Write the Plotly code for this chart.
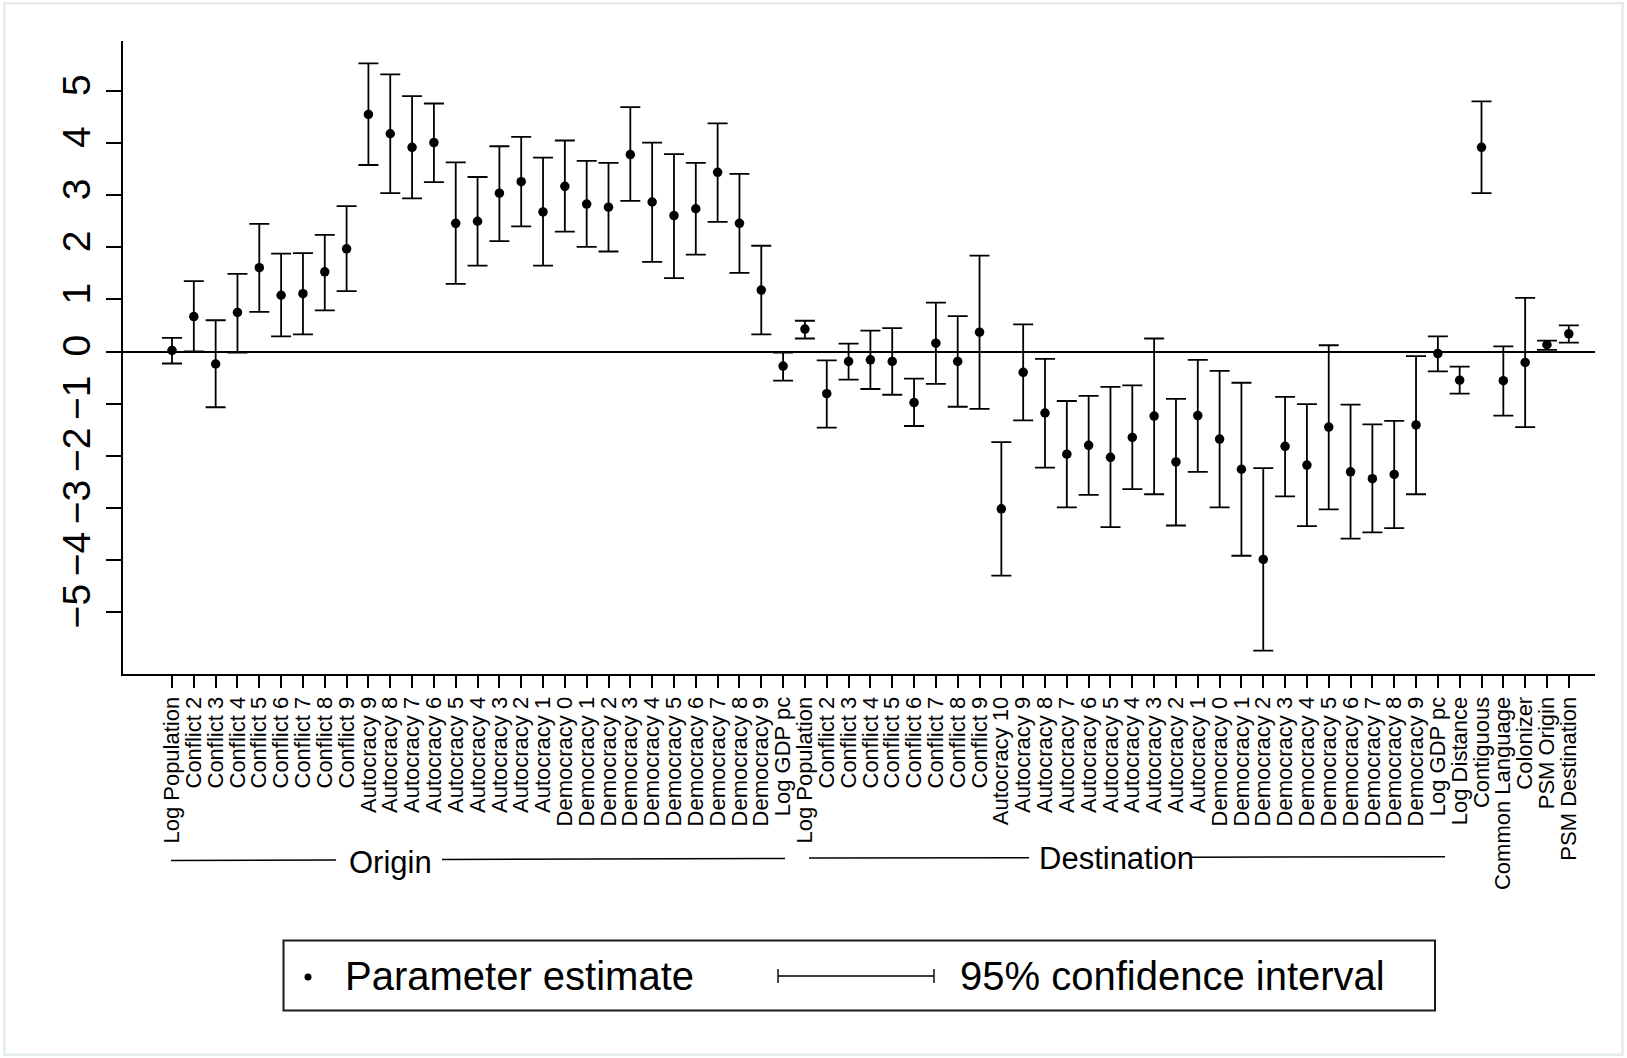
import plotly.graph_objects as go

labels = [
    "Log Population", "Conflict 2", "Conflict 3", "Conflict 4", "Conflict 5",
    "Conflict 6", "Conflict 7", "Conflict 8", "Conflict 9",
    "Autocracy 9", "Autocracy 8", "Autocracy 7", "Autocracy 6", "Autocracy 5",
    "Autocracy 4", "Autocracy 3", "Autocracy 2", "Autocracy 1",
    "Democracy 0", "Democracy 1", "Democracy 2", "Democracy 3", "Democracy 4",
    "Democracy 5", "Democracy 6", "Democracy 7", "Democracy 8", "Democracy 9",
    "Log GDP pc",
    "Log Population", "Conflict 2", "Conflict 3", "Conflict 4", "Conflict 5",
    "Conflict 6", "Conflict 7", "Conflict 8", "Conflict 9",
    "Autocracy 10", "Autocracy 9", "Autocracy 8", "Autocracy 7", "Autocracy 6",
    "Autocracy 5", "Autocracy 4", "Autocracy 3", "Autocracy 2", "Autocracy 1",
    "Democracy 0", "Democracy 1", "Democracy 2", "Democracy 3", "Democracy 4",
    "Democracy 5", "Democracy 6", "Democracy 7", "Democracy 8", "Democracy 9",
    "Log GDP pc", "Log Distance", "Contiguous", "Common Language", "Colonizer",
    "PSM Origin", "PSM Destination",
]

estimate = [
    0.02, 0.67, -0.24, 0.75, 1.61, 1.08, 1.11, 1.53, 1.97,
    4.55, 4.18, 3.92, 4.01, 2.46, 2.50, 3.04, 3.26, 2.68,
    3.17, 2.83, 2.77, 3.78, 2.87, 2.61, 2.74, 3.44, 2.46, 1.18,
    -0.28,
    0.43, -0.81, -0.19, -0.16, -0.19, -0.98, 0.16, -0.19, 0.37,
    -3.02, -0.40, -1.18, -1.97, -1.80, -2.03, -1.65, -1.24, -2.12, -1.23,
    -1.68, -2.26, -3.99, -1.82, -2.18, -1.45, -2.31, -2.44, -2.36, -1.41,
    -0.04, -0.55, 3.92, -0.56, -0.21, 0.13, 0.34,
]

ci_low = [
    -0.23, 0.00, -1.07, -0.02, 0.76, 0.29, 0.33, 0.79, 1.16,
    3.58, 3.04, 2.94, 3.25, 1.30, 1.65, 2.12, 2.40, 1.65,
    2.30, 2.01, 1.92, 2.89, 1.72, 1.41, 1.86, 2.49, 1.51, 0.33,
    -0.56,
    0.25, -1.46, -0.54, -0.72, -0.83, -1.43, -0.62, -1.06, -1.10,
    -4.30, -1.32, -2.23, -2.99, -2.75, -3.37, -2.64, -2.74, -3.34, -2.31,
    -2.99, -3.92, -5.74, -2.78, -3.35, -3.03, -3.59, -3.47, -3.39, -2.74,
    -0.38, -0.81, 3.04, -1.23, -1.45, 0.03, 0.17,
]

ci_high = [
    0.26, 1.35, 0.60, 1.49, 2.45, 1.88, 1.89, 2.24, 2.79,
    5.53, 5.32, 4.90, 4.76, 3.63, 3.35, 3.94, 4.12, 3.72,
    4.05, 3.66, 3.62, 4.69, 4.01, 3.79, 3.62, 4.38, 3.41, 2.03,
    -0.02,
    0.59, -0.17, 0.15, 0.40, 0.45, -0.52, 0.94, 0.68, 1.84,
    -1.74, 0.52, -0.14, -0.95, -0.85, -0.68, -0.65, 0.25, -0.91, -0.16,
    -0.37, -0.60, -2.24, -0.87, -1.01, 0.12, -1.02, -1.40, -1.33, -0.09,
    0.29, -0.29, 4.80, 0.10, 1.03, 0.21, 0.50,
]

y_tick_vals = [-5, -4, -3, -2, -1, 0, 1, 2, 3, 4, 5]
y_tick_text = ["\u22125", "\u22124", "\u22123", "\u22122", "\u22121", "0", "1", "2", "3", "4", "5"]

group_names = ["Origin", "Destination"]
legend_texts = ["Parameter estimate", "95% confidence interval"]

FONT = "Liberation Sans, Arial, Helvetica, sans-serif"
W, H = 1627, 1058
ML, MR, MT, MB = 123, 32, 41, 384
PW = W - ML - MR
PH = H - MT - MB


def px(x):
    return (x - ML) / PW


def py(y):
    return (H - MB - y) / PH


x_pos = list(range(len(labels)))
err_plus = [h - e for h, e in zip(ci_high, estimate)]
err_minus = [e - l for e, l in zip(estimate, ci_low)]

fig = go.Figure()
fig.add_trace(go.Scatter(
    x=x_pos, y=estimate, mode="markers",
    marker=dict(color="black", size=9.5),
    error_y=dict(type="data", symmetric=False, array=err_plus,
                 arrayminus=err_minus, color="black", thickness=1.8, width=10),
    showlegend=False, hoverinfo="skip",
))

shapes = []
annotations = []

# outer light frame
shapes.append(dict(type="rect", xref="paper", yref="paper",
                   x0=px(4.5), x1=px(1622.5), y0=py(3.3), y1=py(1054.7),
                   line=dict(color="#e3ebed", width=2.5), layer="below"))

# group labels with lines
seg_style = dict(color="black", width=1.6)
shapes += [
    dict(type="line", xref="paper", yref="paper", x0=px(171), x1=px(336), y0=py(860.5), y1=py(860), line=seg_style),
    dict(type="line", xref="paper", yref="paper", x0=px(442), x1=px(785), y0=py(859.5), y1=py(858.5), line=seg_style),
    dict(type="line", xref="paper", yref="paper", x0=px(809), x1=px(1029), y0=py(858), y1=py(857.7), line=seg_style),
    dict(type="line", xref="paper", yref="paper", x0=px(1192), x1=px(1445), y0=py(857.2), y1=py(856.7), line=seg_style),
]
annotations += [
    dict(text=group_names[0], xref="paper", yref="paper", x=px(390), y=py(863),
         xanchor="center", yanchor="middle", showarrow=False,
         font=dict(family=FONT, size=31, color="black")),
    dict(text=group_names[1], xref="paper", yref="paper", x=px(1116), y=py(858),
         xanchor="center", yanchor="middle", showarrow=False,
         font=dict(family=FONT, size=31, color="black")),
]

# manual legend box
shapes.append(dict(type="rect", xref="paper", yref="paper",
                   x0=px(283.5), x1=px(1435), y0=py(940.5), y1=py(1010.5),
                   line=dict(color="#1a1a1a", width=2)))
shapes.append(dict(type="circle", xref="paper", yref="paper",
                   xsizemode="pixel", ysizemode="pixel",
                   xanchor=px(308), yanchor=py(977),
                   x0=-3.5, x1=3.5, y0=-3.5, y1=3.5,
                   fillcolor="black", line=dict(color="black", width=0)))
leg_line = dict(color="black", width=1.4)
shapes += [
    dict(type="line", xref="paper", yref="paper", x0=px(778), x1=px(934), y0=py(976), y1=py(976), line=leg_line),
    dict(type="line", xref="paper", yref="paper", x0=px(778), x1=px(778), y0=py(969), y1=py(983), line=leg_line),
    dict(type="line", xref="paper", yref="paper", x0=px(934), x1=px(934), y0=py(969), y1=py(983), line=leg_line),
]
annotations += [
    dict(text=legend_texts[0], xref="paper", yref="paper", x=px(343), y=py(976),
         xanchor="left", yanchor="middle", showarrow=False,
         font=dict(family=FONT, size=40, color="black")),
    dict(text=legend_texts[1], xref="paper", yref="paper", x=px(958), y=py(976),
         xanchor="left", yanchor="middle", showarrow=False,
         font=dict(family=FONT, size=40, color="black")),
]

fig.update_layout(
    width=W, height=H,
    margin=dict(l=ML, r=MR, t=MT, b=MB, autoexpand=False),
    paper_bgcolor="white", plot_bgcolor="white",
    font=dict(family=FONT, color="black"),
    shapes=shapes, annotations=annotations,
    showlegend=False,
    xaxis=dict(
        range=[-2.245, 65.2], tickmode="array", tickvals=x_pos, ticktext=labels,
        tickangle=-90, ticks="outside", ticklen=12, tickwidth=1.5, tickcolor="black",
        showline=True, linecolor="black", linewidth=2, showgrid=False, zeroline=False,
        tickfont=dict(family=FONT, size=22, color="black"), automargin=False,
        fixedrange=True,
    ),
    yaxis=dict(
        range=[-6.19, 5.96], tickmode="array", tickvals=y_tick_vals, ticktext=y_tick_text,
        tickangle=-90, ticks="outside", ticklen=15, tickwidth=1.5, tickcolor="black",
        showline=True, linecolor="black", linewidth=2, showgrid=False,
        zeroline=True, zerolinecolor="black", zerolinewidth=1.6,
        tickfont=dict(family=FONT, size=39, color="black"), automargin=False,
        fixedrange=True,
    ),
)

fig.write_html("out.html", config={"displayModeBar": False})
